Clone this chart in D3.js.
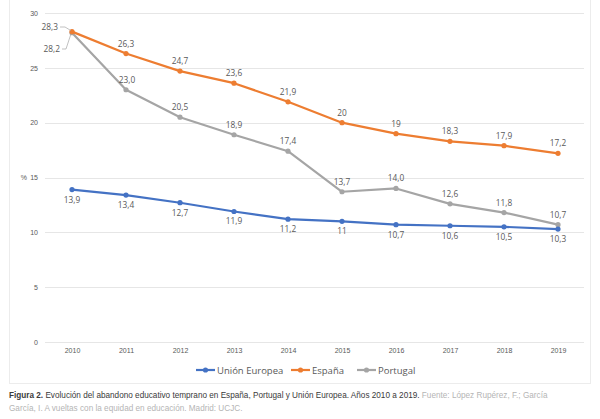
<!DOCTYPE html>
<html><head><meta charset="utf-8">
<script src="https://cdn.jsdelivr.net/npm/d3@7"></script>
<style>
body{margin:0;background:#fff;font-family:"Liberation Sans",Arial,sans-serif;}
svg{display:block}
</style></head><body>
<svg id="c" width="600" height="419"></svg>
<script>
const years = [2010,2011,2012,2013,2014,2015,2016,2017,2018,2019];
const ue = [13.9,13.4,12.7,11.9,11.2,11,10.7,10.6,10.5,10.3];
const espana = [28.3,26.3,24.7,23.6,21.9,20,19,18.3,17.9,17.2];
const portugal = [28.2,23.0,20.5,18.9,17.4,13.7,14.0,12.6,11.8,10.7];
const ueLabels = ["13,9","13,4","12,7","11,9","11,2","11","10,7","10,6","10,5","10,3"];
const esLabels = ["28,3","26,3","24,7","23,6","21,9","20","19","18,3","17,9","17,2"];
const ptLabels = ["28,2","23,0","20,5","18,9","17,4","13,7","14,0","12,6","11,8","10,7"];
const yTicks = [0,5,10,15,20,25,30];
const seriesNames = ["Unión Europea","España","Portugal"];
const colors = ["#4472C4","#ED7D31","#A5A5A5"];

const svg = d3.select("#c");
svg.append("rect").attr("x",9.5).attr("y",-1).attr("width",581).attr("height",384.5)
  .attr("fill","none").attr("stroke","#ececec");

const x = d3.scalePoint().domain(years).range([72,558]);
const y = d3.scaleLinear().domain([0,30]).range([342,13]);

svg.append("g").selectAll("line").data(yTicks).join("line")
  .attr("x1",45).attr("x2",584).attr("y1",d=>Math.round(y(d))+0.5).attr("y2",d=>Math.round(y(d))+0.5)
  .attr("stroke","#e6e6e6").attr("stroke-width",1);

const yAxis = d3.axisLeft(y).tickValues(yTicks).tickSize(0).tickPadding(0).tickFormat(d=>d);
const gy = svg.append("g").attr("transform","translate(38,0)").call(yAxis);
gy.select(".domain").remove();
gy.selectAll("text").attr("fill","#595959").style("font-size","7px").style("font-family","'Liberation Sans',Arial,sans-serif");
svg.append("text").attr("x",27).attr("y",y(15)+2.5).attr("text-anchor","end")
  .attr("fill","#595959").style("font-size","7px").text("%");

const xAxis = d3.axisBottom(x).tickSize(0).tickPadding(0).tickFormat(d=>d);
const gx = svg.append("g").attr("transform","translate(0,348)").call(xAxis);
gx.select(".domain").remove();
gx.selectAll("text").attr("fill","#595959").style("font-size","7px").style("font-family","'Liberation Sans',Arial,sans-serif");

const line = d3.line().x((d,i)=>x(years[i])).y(d=>y(d));
const data = [ue,espana,portugal];
[2,1,0].forEach(k=>{
  svg.append("path").datum(data[k]).attr("d",line).attr("fill","none")
    .attr("stroke",colors[k]).attr("stroke-width",2.2).attr("stroke-linejoin","round");
  svg.append("g").selectAll("circle").data(data[k]).join("circle")
    .attr("cx",(d,i)=>x(years[i])).attr("cy",d=>y(d)).attr("r",2.6).attr("fill",colors[k]);
});

const lblFont = "8.3px";
function lbl(xx,yy,t){
  svg.append("text").attr("x",xx).attr("y",yy).attr("text-anchor","middle")
    .attr("fill","#595959").style("font-size",lblFont).style("font-family","'Open Sans','Liberation Sans',sans-serif").text(t);
}
ue.forEach((d,i)=>lbl(x(years[i]),y(d)+13,ueLabels[i]));
espana.forEach((d,i)=>{ if(i>0) lbl(x(years[i]),y(d)-7,esLabels[i]); });
portugal.forEach((d,i)=>{ if(i>0) lbl(x(years[i])+(i===1?1:0),y(d)-7,ptLabels[i]); });

const px = x(2010), pyE = y(espana[0]), pyP = y(portugal[0]);
svg.append("text").attr("x",58).attr("y",30).attr("text-anchor","end").attr("fill","#595959")
  .style("font-size",lblFont).style("font-family","'Open Sans','Liberation Sans',sans-serif").text(esLabels[0]);
svg.append("path").attr("d",`M60,27 L65,27 L${px-1},${pyE-1}`).attr("fill","none").attr("stroke","#a6a6a6").attr("stroke-width",0.7);
svg.append("text").attr("x",60).attr("y",52).attr("text-anchor","end").attr("fill","#595959")
  .style("font-size",lblFont).style("font-family","'Open Sans','Liberation Sans',sans-serif").text(ptLabels[0]);
svg.append("path").attr("d",`M62,49 L66,49 L${px-1},${pyP+1}`).attr("fill","none").attr("stroke","#a6a6a6").attr("stroke-width",0.7);

const legX = [196,291,357];
seriesNames.forEach((n,k)=>{
  const g = svg.append("g").attr("transform",`translate(${legX[k]},370)`);
  g.append("line").attr("x1",0).attr("x2",19).attr("y1",0).attr("y2",0).attr("stroke",colors[k]).attr("stroke-width",2.2);
  g.append("circle").attr("cx",9.5).attr("cy",0).attr("r",2.6).attr("fill",colors[k]);
  g.append("text").attr("x",21).attr("y",3.5).attr("fill","#595959")
    .style("font-size","9.5px").style("font-family","'Open Sans','Liberation Sans',sans-serif").text(n);
});

const cap = svg.append("text").attr("x",9).attr("y",398).style("font-size","8.2px").style("font-family","'Liberation Sans',Arial,sans-serif");
cap.append("tspan").attr("font-weight","bold").attr("fill","#3a3a3a").text("Figura 2.");
cap.append("tspan").attr("fill","#3a3a3a").text(" Evolución del abandono educativo temprano en España, Portugal y Unión Europea. Años 2010 a 2019.");
cap.append("tspan").attr("fill","#b5b5b5").text(" Fuente: López Rupérez, F.; García");
svg.append("text").attr("x",9).attr("y",411).style("font-size","8.2px").attr("fill","#b5b5b5")
  .style("font-family","'Liberation Sans',Arial,sans-serif").text("García, I. A vueltas con la equidad en educación. Madrid: UCJC.");
</script>
</body></html>
